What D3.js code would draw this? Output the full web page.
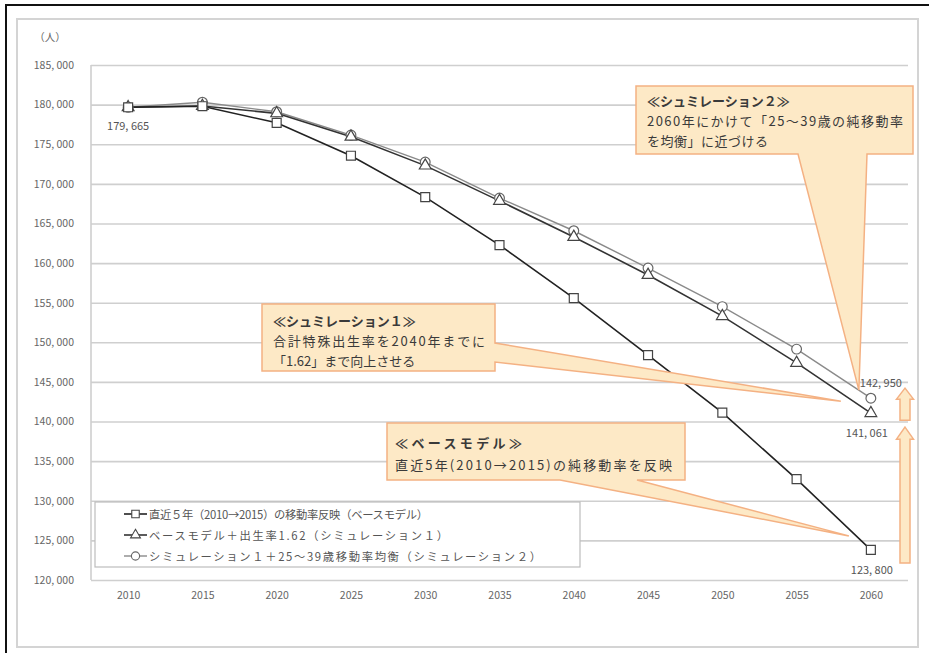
<!DOCTYPE html>
<html><head><meta charset="utf-8">
<script src="https://cdn.jsdelivr.net/npm/d3@7/dist/d3.min.js"></script>
<style>
body{margin:0;background:#fff;}
svg{display:block;font-family:"Noto Sans CJK JP","Noto Sans",sans-serif;}
</style></head>
<body><svg id="c" width="929" height="653"></svg>
<script>
const years = [2010,2015,2020,2025,2030,2035,2040,2045,2050,2055,2060];
const baseModel = [179665,179800,177700,173550,168330,162270,155580,148380,141120,132730,123800];
const sim1 = [179665,179820,178900,175950,172300,167850,163300,158500,153300,147400,141061];
const sim2 = [179665,180300,179100,176160,172750,168200,164080,159370,154500,149140,142950];
const yTicks = [120000,125000,130000,135000,140000,145000,150000,155000,160000,165000,170000,175000,180000,185000];
const seriesNames = [
  "直近５年（2010→2015）の移動率反映（ベースモデル）",
  "ベースモデル＋出生率1.62（シミュレーション１）",
  "シミュレーション１＋25～39歳移動率均衡（シミュレーション２）"
];
const callout2Lines = ["≪シュミレーション２≫","2060年にかけて「25～39歳の純移動率","を均衡」に近づける"];
const callout1Lines = ["≪シュミレーション１≫","合計特殊出生率を2040年までに","「1.62」まで向上させる"];
const callout0Lines = ["≪ベースモデル≫","直近5年(2010→2015)の純移動率を反映"];

const svg = d3.select("#c");
const L=91,R=908,T=65,B=580;
const x = d3.scalePoint().domain(years).range([L,R]).padding(0.5);
const y = d3.scaleLinear().domain([120000,185000]).range([B,T]);
const fmt = v => d3.format(",")(v).replace(",", ", ");

// frames
svg.append("rect").attr("x",6).attr("y",5).attr("width",940).attr("height",660)
  .attr("fill","#fff").attr("stroke","#111").attr("stroke-width",2);
svg.append("rect").attr("x",17).attr("y",19).attr("width",901).attr("height",628)
  .attr("fill","#fff").attr("stroke","#d4d4d4").attr("stroke-width",2);

// y axis gridlines
const ya = svg.append("g").attr("transform",`translate(${L},0)`)
  .call(d3.axisLeft(y).tickValues(yTicks).tickSize(-(R-L)).tickFormat(fmt).tickPadding(17));
ya.select(".domain").remove();
ya.selectAll(".tick line").attr("stroke","#cfcfcf").attr("stroke-width",1.6);
ya.selectAll(".tick text").attr("fill","#666").attr("font-size",10.5)
  .attr("font-family","'Noto Sans CJK JP',sans-serif");
svg.append("line").attr("x1",L).attr("x2",L).attr("y1",T).attr("y2",B)
  .attr("stroke","#cfcfcf").attr("stroke-width",1.6);
svg.append("text").attr("x",50).attr("y",41).attr("text-anchor","middle")
  .attr("font-size",10.5).attr("fill","#666").text("（人）");

// x axis labels
const xa = svg.append("g").attr("transform",`translate(0,${B})`)
  .call(d3.axisBottom(x).tickSize(0).tickPadding(12));
xa.select(".domain").remove();
xa.selectAll(".tick text").attr("fill","#666").attr("font-size",10.5)
  .attr("font-family","'Noto Sans CJK JP',sans-serif");

// legend box
const lg = svg.append("g");
lg.append("rect").attr("x",95).attr("y",502).attr("width",485).attr("height",65)
  .attr("fill","#fff").attr("stroke","#bdbdbd").attr("stroke-width",1.2);

const series = [
  {vals:baseModel, color:"#222", w:1.6, marker:"square"},
  {vals:sim1, color:"#333", w:1.6, marker:"triangle"},
  {vals:sim2, color:"#8a8a8a", w:1.4, marker:"circle"}
];
const sym = {square:d3.symbolSquare, triangle:d3.symbolTriangle, circle:d3.symbolCircle};
const symSize = {square:80, triangle:60, circle:75};

const line = d3.line().x((d,i)=>x(years[i])).y(d=>y(d));
[2,1,0].forEach(k=>{
  const s = series[k];
  svg.append("path").datum(s.vals).attr("d",line).attr("fill","none")
    .attr("stroke",s.color).attr("stroke-width",s.w);
});
[2,1,0].forEach(k=>{
  const s = series[k];
  svg.append("g").selectAll("path").data(s.vals).join("path")
    .attr("transform",(d,i)=>`translate(${x(years[i])},${y(d)})`)
    .attr("d",d3.symbol().type(sym[s.marker]).size(symSize[s.marker]))
    .attr("fill","#fff").attr("stroke",k===2?"#666":"#444").attr("stroke-width",1.2);
});

// legend entries
const legendLen = [279,299,392];
seriesNames.forEach((n,i)=>{
  const s = series[i];
  const yy = 514 + i*21;
  lg.append("line").attr("x1",124).attr("x2",147).attr("y1",yy).attr("y2",yy)
    .attr("stroke",s.color).attr("stroke-width",s.w);
  lg.append("path").attr("transform",`translate(135.5,${yy})`)
    .attr("d",d3.symbol().type(sym[s.marker]).size(symSize[s.marker]*0.7))
    .attr("fill","#fff").attr("stroke",i===2?"#666":"#444").attr("stroke-width",1.1);
  lg.append("text").attr("x",149).attr("y",yy).attr("dominant-baseline","central")
    .attr("font-size",11.3).attr("fill","#555")
    .attr("textLength",legendLen[i]).attr("lengthAdjust","spacing").text(n);
});

// data labels
const last = years.length-1;
svg.append("text").attr("x",x(2010)).attr("y",y(baseModel[0])+23).attr("text-anchor","middle")
  .attr("font-size",11).attr("fill","#555").text(fmt(baseModel[0]));
svg.append("text").attr("x",x(2060)+10).attr("y",y(sim2[last])-11).attr("text-anchor","middle")
  .attr("font-size",11).attr("fill","#555").text(fmt(sim2[last]));
svg.append("text").attr("x",x(2060)-4).attr("y",y(sim1[last])+24).attr("text-anchor","middle")
  .attr("font-size",11).attr("fill","#555").text(fmt(sim1[last]));
svg.append("text").attr("x",x(2060)+1).attr("y",y(baseModel[last])+24).attr("text-anchor","middle")
  .attr("font-size",11).attr("fill","#555").text(fmt(baseModel[last]));

// callouts
const cFill="#fde9c6", cStroke="#f4b183";
function calloutBottom(bx,by,bw,bh,wl,wr,tx,ty){
  return `M${bx},${by}H${bx+bw}V${by+bh}H${wr}L${tx},${ty}L${wl},${by+bh}H${bx}Z`;
}
function calloutRight(bx,by,bw,bh,wt,wb,tx,ty){
  return `M${bx},${by}H${bx+bw}V${wt}L${tx},${ty}L${bx+bw},${wb}V${by+bh}H${bx}Z`;
}
const cg = svg.append("g");
cg.append("path").attr("d",calloutBottom(636,86,277,68,798,867,x(2060)-12,y(sim2[last])-8))
  .attr("fill",cFill).attr("stroke",cStroke).attr("stroke-width",1.5);
cg.append("path").attr("d",calloutRight(262,304,233,67,343,362,x(2060)-30,y(sim1[last])-12))
  .attr("fill",cFill).attr("stroke",cStroke).attr("stroke-width",1.5);
cg.append("path").attr("d",calloutBottom(387,423,298,57,560,637,x(2060)-22,y(baseModel[last])-14))
  .attr("fill",cFill).attr("stroke",cStroke).attr("stroke-width",1.5);

function calloutText(lines,lens,x0,y0,dy){
  lines.forEach((t,i)=>{
    const tx = cg.append("text").attr("x",x0).attr("y",y0+i*dy).attr("dominant-baseline","central")
      .attr("font-size",13).attr("fill","#3a3a3a").attr("font-weight",i===0?"bold":"normal").text(t);
    if(lens[i]) tx.attr("textLength",lens[i]).attr("lengthAdjust","spacing");
  });
}
calloutText(callout2Lines,[0,256,121],647,100,20);
calloutText(callout1Lines,[0,212,0],273,320,20);
calloutText(callout0Lines,[127,277],395,442,22);

// arrows
function upArrow(cx,top,bot,headH,headW,shaftW){
  return `M${cx},${top}L${cx+headW/2},${top+headH}H${cx+shaftW/2}V${bot}H${cx-shaftW/2}V${top+headH}H${cx-headW/2}Z`;
}
svg.append("path").attr("d",upArrow(905,y(sim2[last])-10,y(sim1[last])+7,11,17,10))
  .attr("fill",cFill).attr("stroke",cStroke).attr("stroke-width",1.5);
svg.append("path").attr("d",upArrow(905,y(sim1[last])+14,y(baseModel[last])+13,12,17,10))
  .attr("fill",cFill).attr("stroke",cStroke).attr("stroke-width",1.5);
</script></body></html>
